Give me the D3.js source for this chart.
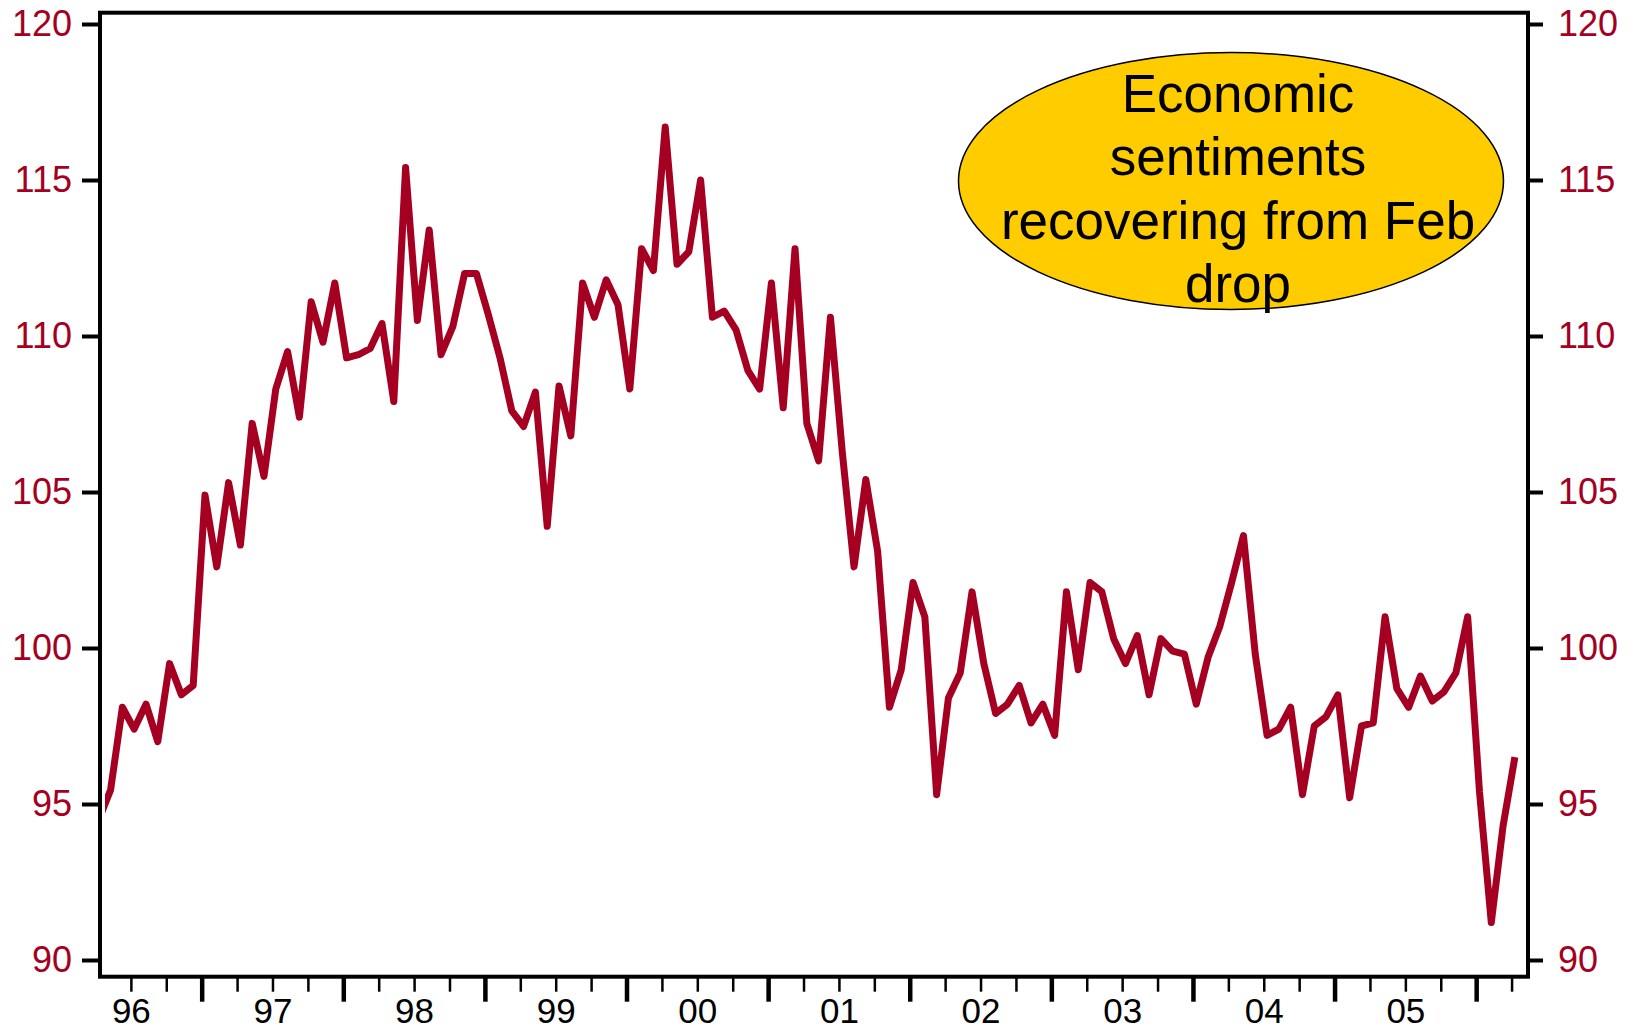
<!DOCTYPE html>
<html>
<head>
<meta charset="utf-8">
<script src="https://cdn.jsdelivr.net/npm/d3@7"></script>
<style>
  html, body { margin: 0; padding: 0; background: #ffffff; }
  svg { display: block; font-family: "Liberation Sans", Arial, Helvetica, sans-serif; }
</style>
</head>
<body>
<svg id="chart" width="1639" height="1031"></svg>
<script>
// Economic sentiment index, monthly, April 1996 – April 2006
const firstYear = 1996;
const firstMonth = 4;
const sentiment = [
  // 1996 (Apr–Dec)
  94.5, 95.45, 98.1, 97.4, 98.2, 97.0, 99.5, 98.5, 98.8,
  // 1997
  104.9, 102.6, 105.3, 103.3, 107.2, 105.5, 108.3, 109.5, 107.4, 111.1, 109.8, 111.7,
  // 1998
  109.3, 109.4, 109.6, 110.4, 107.9, 115.4, 110.5, 113.4, 109.4, 110.3, 112.0, 112.0,
  // 1999
  110.7, 109.3, 107.6, 107.1, 108.2, 103.9, 108.4, 106.8, 111.7, 110.6, 111.8, 111.0,
  // 2000
  108.3, 112.8, 112.1, 116.7, 112.3, 112.7, 115.0, 110.6, 110.8, 110.2, 108.9, 108.3,
  // 2001
  111.7, 107.7, 112.8, 107.2, 106.0, 110.6, 106.3, 102.6, 105.4, 103.1, 98.1, 99.3,
  // 2002
  102.1, 101.0, 95.3, 98.4, 99.2, 101.8, 99.5, 97.9, 98.2, 98.8, 97.6, 98.2,
  // 2003
  97.2, 101.8, 99.3, 102.1, 101.8, 100.3, 99.5, 100.4, 98.5, 100.3, 99.9, 99.8,
  // 2004
  98.2, 99.7, 100.7, 102.1, 103.6, 99.8, 97.2, 97.4, 98.1, 95.3, 97.5, 97.8,
  // 2005
  98.5, 95.2, 97.5, 97.6, 101.0, 98.7, 98.1, 99.1, 98.3, 98.6, 99.2, 101.0,
  // 2006 (Jan–Apr)
  95.4, 91.2, 94.3, 96.5
];
const yTicks = [90, 95, 100, 105, 110, 115, 120];
const yearLabels = ["96", "97", "98", "99", "00", "01", "02", "03", "04", "05"];
const noteLines = ["Economic", "sentiments", "recovering from Feb", "drop"];

const RED = "#a50021";
const plot = { left: 100, right: 1528, top: 12.7, bottom: 976.7 };

const svg = d3.select("#chart");

// time on a decimal-year axis
const x = d3.scaleLinear().domain([1996.282, 2006.366]).range([plot.left, plot.right]);
const y = d3.scaleLinear().domain([90, 120]).range([960, 24]);

const series = sentiment.map((v, i) => ({
  t: firstYear + (firstMonth - 1 + 0.28 + i) / 12,
  v: v
}));

svg.append("defs").append("clipPath").attr("id", "plotClip")
  .append("rect")
  .attr("x", plot.left + 5).attr("y", plot.top)
  .attr("width", plot.right - plot.left - 5).attr("height", plot.bottom - plot.top);

// sentiment line
svg.append("path")
  .datum(series)
  .attr("clip-path", "url(#plotClip)")
  .attr("fill", "none")
  .attr("stroke", RED)
  .attr("stroke-width", 7)
  .attr("stroke-linejoin", "round")
  .attr("d", d3.line().x(d => x(d.t)).y(d => y(d.v)));

// y axes, left and right
function styleAxis(g, width) {
  g.select(".domain").remove();
  g.selectAll(".tick line").attr("stroke", "#000").attr("stroke-width", width);
}
svg.append("g")
  .attr("transform", `translate(${plot.left},0)`)
  .call(d3.axisLeft(y).tickValues(yTicks).tickSize(18).tickPadding(10).tickFormat(d3.format("d")))
  .call(g => styleAxis(g, 4))
  .call(g => g.selectAll("text").attr("fill", RED).attr("font-size", 36));
svg.append("g")
  .attr("transform", `translate(${plot.right},0)`)
  .call(d3.axisRight(y).tickValues(yTicks).tickSize(15).tickPadding(15).tickFormat(d3.format("d")))
  .call(g => styleAxis(g, 4))
  .call(g => g.selectAll("text").attr("fill", RED).attr("font-size", 36));

// x axis: quarter ticks, year ticks, year labels centred mid-year
const years = d3.range(1996, 2007);
const quarterTicks = [];
years.forEach(yr => [0.25, 0.5, 0.75].forEach(q => quarterTicks.push(yr + q)));
const visible = t => t > x.domain()[0] && t < x.domain()[1];

svg.append("g")
  .attr("transform", `translate(0,${plot.bottom})`)
  .call(d3.axisBottom(x).tickValues(quarterTicks.filter(visible)).tickSize(15).tickFormat(""))
  .call(g => styleAxis(g, 2.5));
svg.append("g")
  .attr("transform", `translate(0,${plot.bottom})`)
  .call(d3.axisBottom(x).tickValues(years.filter(visible)).tickSize(25).tickFormat(""))
  .call(g => styleAxis(g, 4.5));
svg.append("g")
  .attr("transform", `translate(0,${plot.bottom})`)
  .call(d3.axisBottom(x).tickValues(yearLabels.map((d, i) => firstYear + i + 0.5))
    .tickSize(0).tickPadding(21).tickFormat((d, i) => yearLabels[i]))
  .call(g => g.select(".domain").remove())
  .call(g => g.selectAll("text").attr("fill", "#000").attr("font-size", 35));

// plot frame
svg.append("rect")
  .attr("x", plot.left).attr("y", plot.top)
  .attr("width", plot.right - plot.left).attr("height", plot.bottom - plot.top)
  .attr("fill", "none").attr("stroke", "#000").attr("stroke-width", 4);

// annotation bubble
const note = svg.append("g");
note.append("ellipse")
  .attr("cx", 1231).attr("cy", 181).attr("rx", 272.5).attr("ry", 128.5)
  .attr("fill", "#ffcc00").attr("stroke", "#000").attr("stroke-width", 1.5);
note.selectAll("text")
  .data(noteLines)
  .join("text")
  .attr("x", 1238)
  .attr("y", (d, i) => 111.7 + i * 63.5)
  .attr("text-anchor", "middle")
  .attr("font-size", 53)
  .attr("fill", "#000")
  .text(d => d);
</script>
</body>
</html>
